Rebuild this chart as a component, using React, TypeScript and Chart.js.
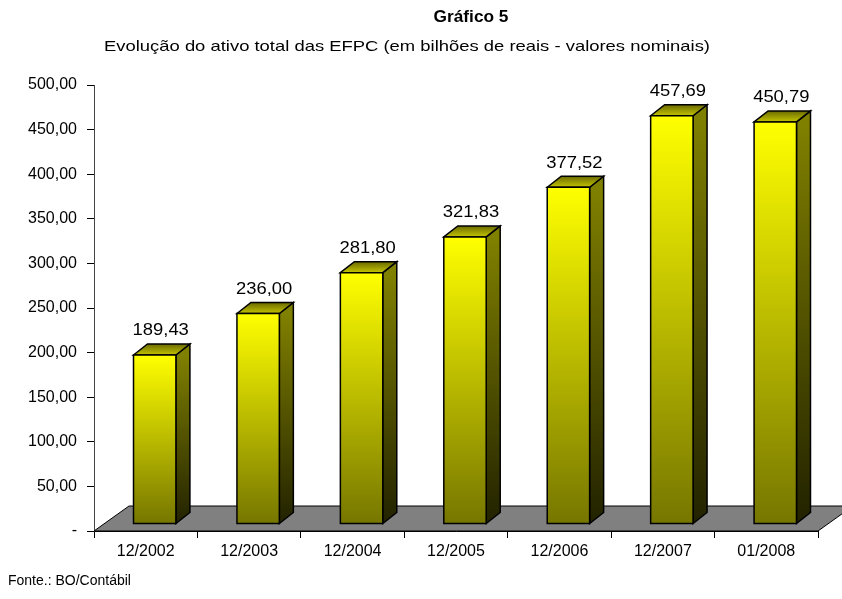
import React, { useEffect, useRef } from "react";
import { Chart, registerables } from "chart.js";

Chart.register(...registerables);

const categories = ["12/2002", "12/2003", "12/2004", "12/2005", "12/2006", "12/2007", "01/2008"];
const values = [189.43, 236.0, 281.8, 321.83, 377.52, 457.69, 450.79];
const chartTitle = "Gráfico 5";
const chartSubtitle = "Evolução do ativo total das EFPC (em bilhões de reais - valores nominais)";
const footnote = "Fonte.: BO/Contábil";

const FONT = "'Liberation Sans', Arial, sans-serif";
const fmt = (v: number) => v.toFixed(2).replace(".", ",");

// 3D geometry (pixels)
const FRONT_DX = 9;
const FRONT_DY = -7;
const DEPTH_DX = 14;
const DEPTH_DY = -11;
const FLOOR_DX = 35;
const FLOOR_DY = -25;

function stretchText(ctx: any, text: string, x: number, y: number, sx: number, align: string) {
  ctx.save();
  ctx.translate(x, y);
  ctx.scale(sx, 1);
  ctx.textAlign = align;
  ctx.fillText(text, 0, 0);
  ctx.restore();
}

const threeD = {
  id: "threeD",
  beforeDatasetsDraw(chart: any) {
    const ctx = chart.ctx;
    const a = chart.chartArea;
    const y0 = chart.scales.y.getPixelForValue(0);
    ctx.save();
    ctx.beginPath();
    ctx.moveTo(a.left, y0);
    ctx.lineTo(a.right, y0);
    ctx.lineTo(a.right + FLOOR_DX, y0 + FLOOR_DY);
    ctx.lineTo(a.left + FLOOR_DX, y0 + FLOOR_DY);
    ctx.closePath();
    ctx.fillStyle = "#808080";
    ctx.fill();
    ctx.strokeStyle = "#000";
    ctx.lineWidth = 1;
    ctx.stroke();
    ctx.restore();
  },
  afterDatasetsDraw(chart: any) {
    const ctx = chart.ctx;
    const meta = chart.getDatasetMeta(0);
    ctx.save();
    ctx.lineJoin = "miter";
    meta.data.forEach((el: any, i: number) => {
      const w = el.width;
      const L = el.x - w / 2 + FRONT_DX;
      const R = el.x + w / 2 + FRONT_DX;
      const T = el.y + FRONT_DY;
      const B = el.base + FRONT_DY;
      // side face
      const sg = ctx.createLinearGradient(0, T, 0, B);
      sg.addColorStop(0, "#808000");
      sg.addColorStop(1, "#222200");
      ctx.beginPath();
      ctx.moveTo(R, T);
      ctx.lineTo(R + DEPTH_DX, T + DEPTH_DY);
      ctx.lineTo(R + DEPTH_DX, B + DEPTH_DY);
      ctx.lineTo(R, B);
      ctx.closePath();
      ctx.fillStyle = sg;
      ctx.fill();
      ctx.strokeStyle = "#000";
      ctx.lineWidth = 1.5;
      ctx.stroke();
      // top face
      const tg = ctx.createLinearGradient(0, T + DEPTH_DY, 0, T);
      tg.addColorStop(0, "#6a6a00");
      tg.addColorStop(1, "#c4c400");
      ctx.beginPath();
      ctx.moveTo(L, T);
      ctx.lineTo(L + DEPTH_DX, T + DEPTH_DY);
      ctx.lineTo(R + DEPTH_DX, T + DEPTH_DY);
      ctx.lineTo(R, T);
      ctx.closePath();
      ctx.fillStyle = tg;
      ctx.fill();
      ctx.stroke();
      // front face
      const fg = ctx.createLinearGradient(0, T, 0, B);
      fg.addColorStop(0, "#FFFF00");
      fg.addColorStop(1, "#767600");
      ctx.beginPath();
      ctx.rect(L, T, R - L, B - T);
      ctx.fillStyle = fg;
      ctx.fill();
      ctx.stroke();
      // value label
      ctx.fillStyle = "#000";
      ctx.font = `16px ${FONT}`;
      ctx.textBaseline = "middle";
      stretchText(ctx, fmt(values[i]), (L + R) / 2 + 6, T - 24, 1.15, "center");
    });
    ctx.restore();
  },
  afterDraw(chart: any) {
    const ctx = chart.ctx;
    ctx.save();
    ctx.fillStyle = "#000";
    ctx.textBaseline = "middle";
    ctx.font = `bold 16px ${FONT}`;
    stretchText(ctx, chartTitle, 471, 18, 1.08, "center");
    ctx.font = `15px ${FONT}`;
    const w = ctx.measureText(chartSubtitle).width;
    stretchText(ctx, chartSubtitle, 104, 47, 606 / w, "left");
    ctx.font = `14px ${FONT}`;
    stretchText(ctx, footnote, 8, 581, 1.0, "left");
    ctx.restore();
  },
};

export default function App() {
  const ref = useRef<HTMLCanvasElement | null>(null);
  useEffect(() => {
    if (!ref.current) return;
    const chart = new Chart(ref.current, {
      type: "bar",
      data: {
        labels: categories,
        datasets: [
          {
            data: values,
            backgroundColor: "rgba(0,0,0,0)",
            borderWidth: 0,
            categoryPercentage: 1,
            barPercentage: 0.41,
          },
        ],
      },
      options: {
        responsive: false,
        animation: false,
        events: [],
        layout: { padding: { top: 85, right: 24, left: 0, bottom: 0 } },
        plugins: {
          legend: { display: false },
          tooltip: { enabled: false },
          title: { display: false },
        },
        scales: {
          x: {
            grid: { drawOnChartArea: false, drawTicks: true, tickLength: 7, color: "#000", offset: true },
            border: { display: true, color: "#000", width: 1 },
            ticks: { color: "#000", font: { size: 16, family: FONT }, padding: 4, maxRotation: 0 },
            afterFit: (s: any) => {
              s.height = 68;
            },
          },
          y: {
            min: 0,
            max: 500,
            grid: { drawOnChartArea: false, drawTicks: true, tickLength: 7, color: "#000" },
            border: { display: true, color: "#444", width: 1 },
            ticks: {
              stepSize: 50,
              color: "#000",
              font: { size: 16, family: FONT },
              padding: 10,
              callback: (v: any) => (Number(v) === 0 ? "-" : fmt(Number(v))),
            },
            afterFit: (s: any) => {
              s.width = 94;
            },
          },
        },
      },
      plugins: [threeD],
    });
    return () => chart.destroy();
  }, []);
  return (
    <div style={{ position: "absolute", left: 0, top: 0, width: 842, height: 599, background: "#fff" }}>
      <canvas ref={ref} width={842} height={599} />
    </div>
  );
}
